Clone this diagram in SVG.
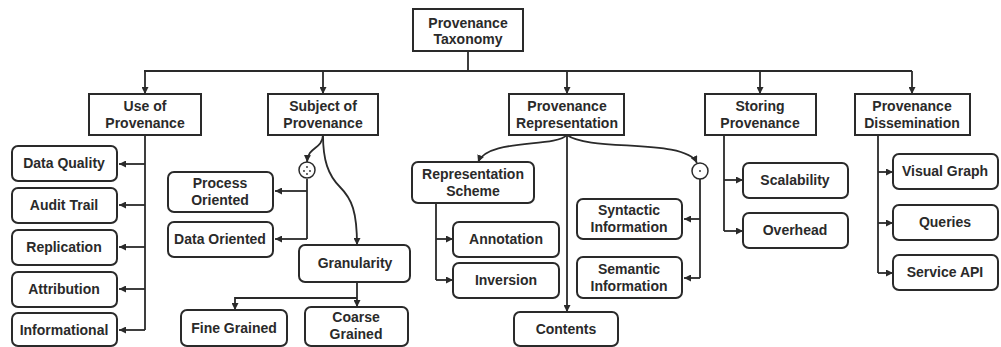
<svg xmlns="http://www.w3.org/2000/svg" width="1001" height="347" viewBox="0 0 1001 347">
<style>
.box{fill:#fff;stroke:#2a2a2a;stroke-width:2}
.rbox{fill:#fff;stroke:#2a2a2a;stroke-width:2}
.t{font-family:"Liberation Sans",Arial,sans-serif;font-weight:bold;font-size:14px;fill:#2a2a2a;text-anchor:middle}
.c{fill:none;stroke:#2a2a2a;stroke-width:1.8}
.a{marker-end:url(#ah)}
</style>
<defs>
<marker id="ah" viewBox="0 0 8 8" refX="8" refY="4" markerWidth="7" markerHeight="7" orient="auto" markerUnits="userSpaceOnUse">
<path d="M0,0 L8,4 L0,8 z" fill="#2a2a2a"/>
</marker>
</defs>
<rect width="1001" height="347" fill="#fff"/>

<g id="connectors">
<path class="c" d="M468,51 V71 M144,71 H912"/>
<path class="c a" d="M145,71 V94"/>
<path class="c a" d="M323,71 V94"/>
<path class="c a" d="M567,71 V94"/>
<path class="c a" d="M760,71 V94"/>
<path class="c a" d="M912,71 V94"/>
<!-- use -->
<path class="c" d="M145,135 V330"/>
<path class="c a" d="M145,164 H119"/>
<path class="c a" d="M145,205 H119"/>
<path class="c a" d="M145,247 H119"/>
<path class="c a" d="M145,289 H119"/>
<path class="c a" d="M145,330 H119"/>
<!-- subject -->
<path class="c a" d="M323,135 C322,150 308,146 307,162"/>
<path class="c a" d="M323,135 C323,160 328,175 340,187 C352,199 357,212 357,245"/>
<path class="c" d="M307,179 V239"/>
<path class="c a" d="M307,191 H275"/>
<path class="c a" d="M307,239 H275"/>
<path class="c a" d="M357,282 V307"/>
<path class="c a" d="M357,298 H235 V310"/>
<!-- representation -->
<path class="c a" d="M567,135 C555,148 488,138 478,162"/>
<path class="c a" d="M567,135 V312"/>
<path class="c a" d="M567,135 C590,152 685,138 697,163"/>
<path class="c" d="M700,179 V278"/>
<path class="c a" d="M700,219 H684"/>
<path class="c a" d="M700,278 H684"/>
<path class="c" d="M436,203 V280"/>
<path class="c a" d="M436,239 H453"/>
<path class="c a" d="M436,280 H453"/>
<!-- storing -->
<path class="c" d="M724,135 V231"/>
<path class="c a" d="M724,180 H743"/>
<path class="c a" d="M724,231 H743"/>
<!-- dissemination -->
<path class="c" d="M878,135 V273"/>
<path class="c a" d="M878,172 H893"/>
<path class="c a" d="M878,223 H893"/>
<path class="c a" d="M878,273 H893"/>
</g>

<g id="n-taxonomy"><rect class="box" x="413" y="9" width="110" height="42"/><text class="t" x="468" y="28">Provenance</text><text class="t" x="468" y="44">Taxonomy</text></g>
<g id="n-use"><rect class="box" x="89" y="94" width="112" height="41"/><text class="t" x="145" y="111">Use of</text><text class="t" x="145" y="128">Provenance</text></g>
<g id="n-subject"><rect class="box" x="268" y="94" width="110" height="41"/><text class="t" x="323" y="111">Subject of</text><text class="t" x="323" y="128">Provenance</text></g>
<g id="n-representation"><rect class="box" x="509" y="94" width="115" height="41"/><text class="t" x="567" y="111">Provenance</text><text class="t" x="567" y="128">Representation</text></g>
<g id="n-storing"><rect class="box" x="705" y="94" width="111" height="41"/><text class="t" x="760" y="111">Storing</text><text class="t" x="760" y="128">Provenance</text></g>
<g id="n-dissemination"><rect class="box" x="855" y="94" width="115" height="41"/><text class="t" x="912" y="111">Provenance</text><text class="t" x="912" y="128">Dissemination</text></g>

<g id="n-dataquality"><rect class="rbox" x="12" y="146" width="105" height="35" rx="6"/><text class="t" x="64" y="168">Data Quality</text></g>
<g id="n-audit"><rect class="rbox" x="12" y="188" width="105" height="35" rx="6"/><text class="t" x="64" y="210">Audit Trail</text></g>
<g id="n-replication"><rect class="rbox" x="12" y="230" width="105" height="35" rx="6"/><text class="t" x="64" y="252">Replication</text></g>
<g id="n-attribution"><rect class="rbox" x="12" y="272" width="105" height="35" rx="6"/><text class="t" x="64" y="294">Attribution</text></g>
<g id="n-informational"><rect class="rbox" x="12" y="313" width="105" height="33" rx="6"/><text class="t" x="64" y="335">Informational</text></g>

<g id="n-or1"><circle cx="307" cy="170" r="8" fill="#fff" stroke="#2a2a2a" stroke-width="1.5"/><circle cx="307" cy="167" r="0.9" fill="#2a2a2a"/><circle cx="304" cy="171" r="0.9" fill="#2a2a2a"/><circle cx="310" cy="171" r="0.9" fill="#2a2a2a"/><circle cx="307" cy="174" r="0.9" fill="#2a2a2a"/></g>
<g id="n-process"><rect class="rbox" x="168" y="172" width="105" height="40" rx="6"/><text class="t" x="220" y="188">Process</text><text class="t" x="220" y="205">Oriented</text></g>
<g id="n-data"><rect class="rbox" x="168" y="222" width="105" height="35" rx="6"/><text class="t" x="220" y="244">Data Oriented</text></g>
<g id="n-granularity"><rect class="rbox" x="299" y="245" width="111" height="37" rx="6"/><text class="t" x="355" y="268">Granularity</text></g>
<g id="n-fine"><rect class="rbox" x="181" y="310" width="106" height="36" rx="6"/><text class="t" x="234" y="333">Fine Grained</text></g>
<g id="n-coarse"><rect class="rbox" x="305" y="307" width="103" height="39" rx="6"/><text class="t" x="356" y="322">Coarse</text><text class="t" x="356" y="339">Grained</text></g>

<g id="n-scheme"><rect class="rbox" x="412" y="162" width="122" height="41" rx="6"/><text class="t" x="473" y="179">Representation</text><text class="t" x="473" y="196">Scheme</text></g>
<g id="n-annotation"><rect class="rbox" x="453" y="222" width="106" height="35" rx="6"/><text class="t" x="506" y="244">Annotation</text></g>
<g id="n-inversion"><rect class="rbox" x="453" y="263" width="106" height="35" rx="6"/><text class="t" x="506" y="285">Inversion</text></g>
<g id="n-contents"><rect class="rbox" x="514" y="312" width="104" height="34" rx="6"/><text class="t" x="566" y="334">Contents</text></g>
<g id="n-or2"><circle cx="700" cy="171" r="8" fill="#fff" stroke="#2a2a2a" stroke-width="1.5"/><circle cx="700" cy="171" r="0.9" fill="#2a2a2a"/></g>
<g id="n-syntactic"><rect class="rbox" x="577" y="199" width="105" height="40" rx="6"/><text class="t" x="629" y="215">Syntactic</text><text class="t" x="629" y="232">Information</text></g>
<g id="n-semantic"><rect class="rbox" x="577" y="257" width="105" height="41" rx="6"/><text class="t" x="629" y="274">Semantic</text><text class="t" x="629" y="291">Information</text></g>

<g id="n-scalability"><rect class="rbox" x="743" y="163" width="105" height="35" rx="6"/><text class="t" x="795" y="185">Scalability</text></g>
<g id="n-overhead"><rect class="rbox" x="743" y="213" width="105" height="35" rx="6"/><text class="t" x="795" y="235">Overhead</text></g>

<g id="n-visual"><rect class="rbox" x="893" y="154" width="105" height="35" rx="6"/><text class="t" x="945" y="176">Visual Graph</text></g>
<g id="n-queries"><rect class="rbox" x="893" y="205" width="105" height="35" rx="6"/><text class="t" x="945" y="227">Queries</text></g>
<g id="n-service"><rect class="rbox" x="893" y="255" width="105" height="35" rx="6"/><text class="t" x="945" y="277">Service API</text></g>
</svg>
